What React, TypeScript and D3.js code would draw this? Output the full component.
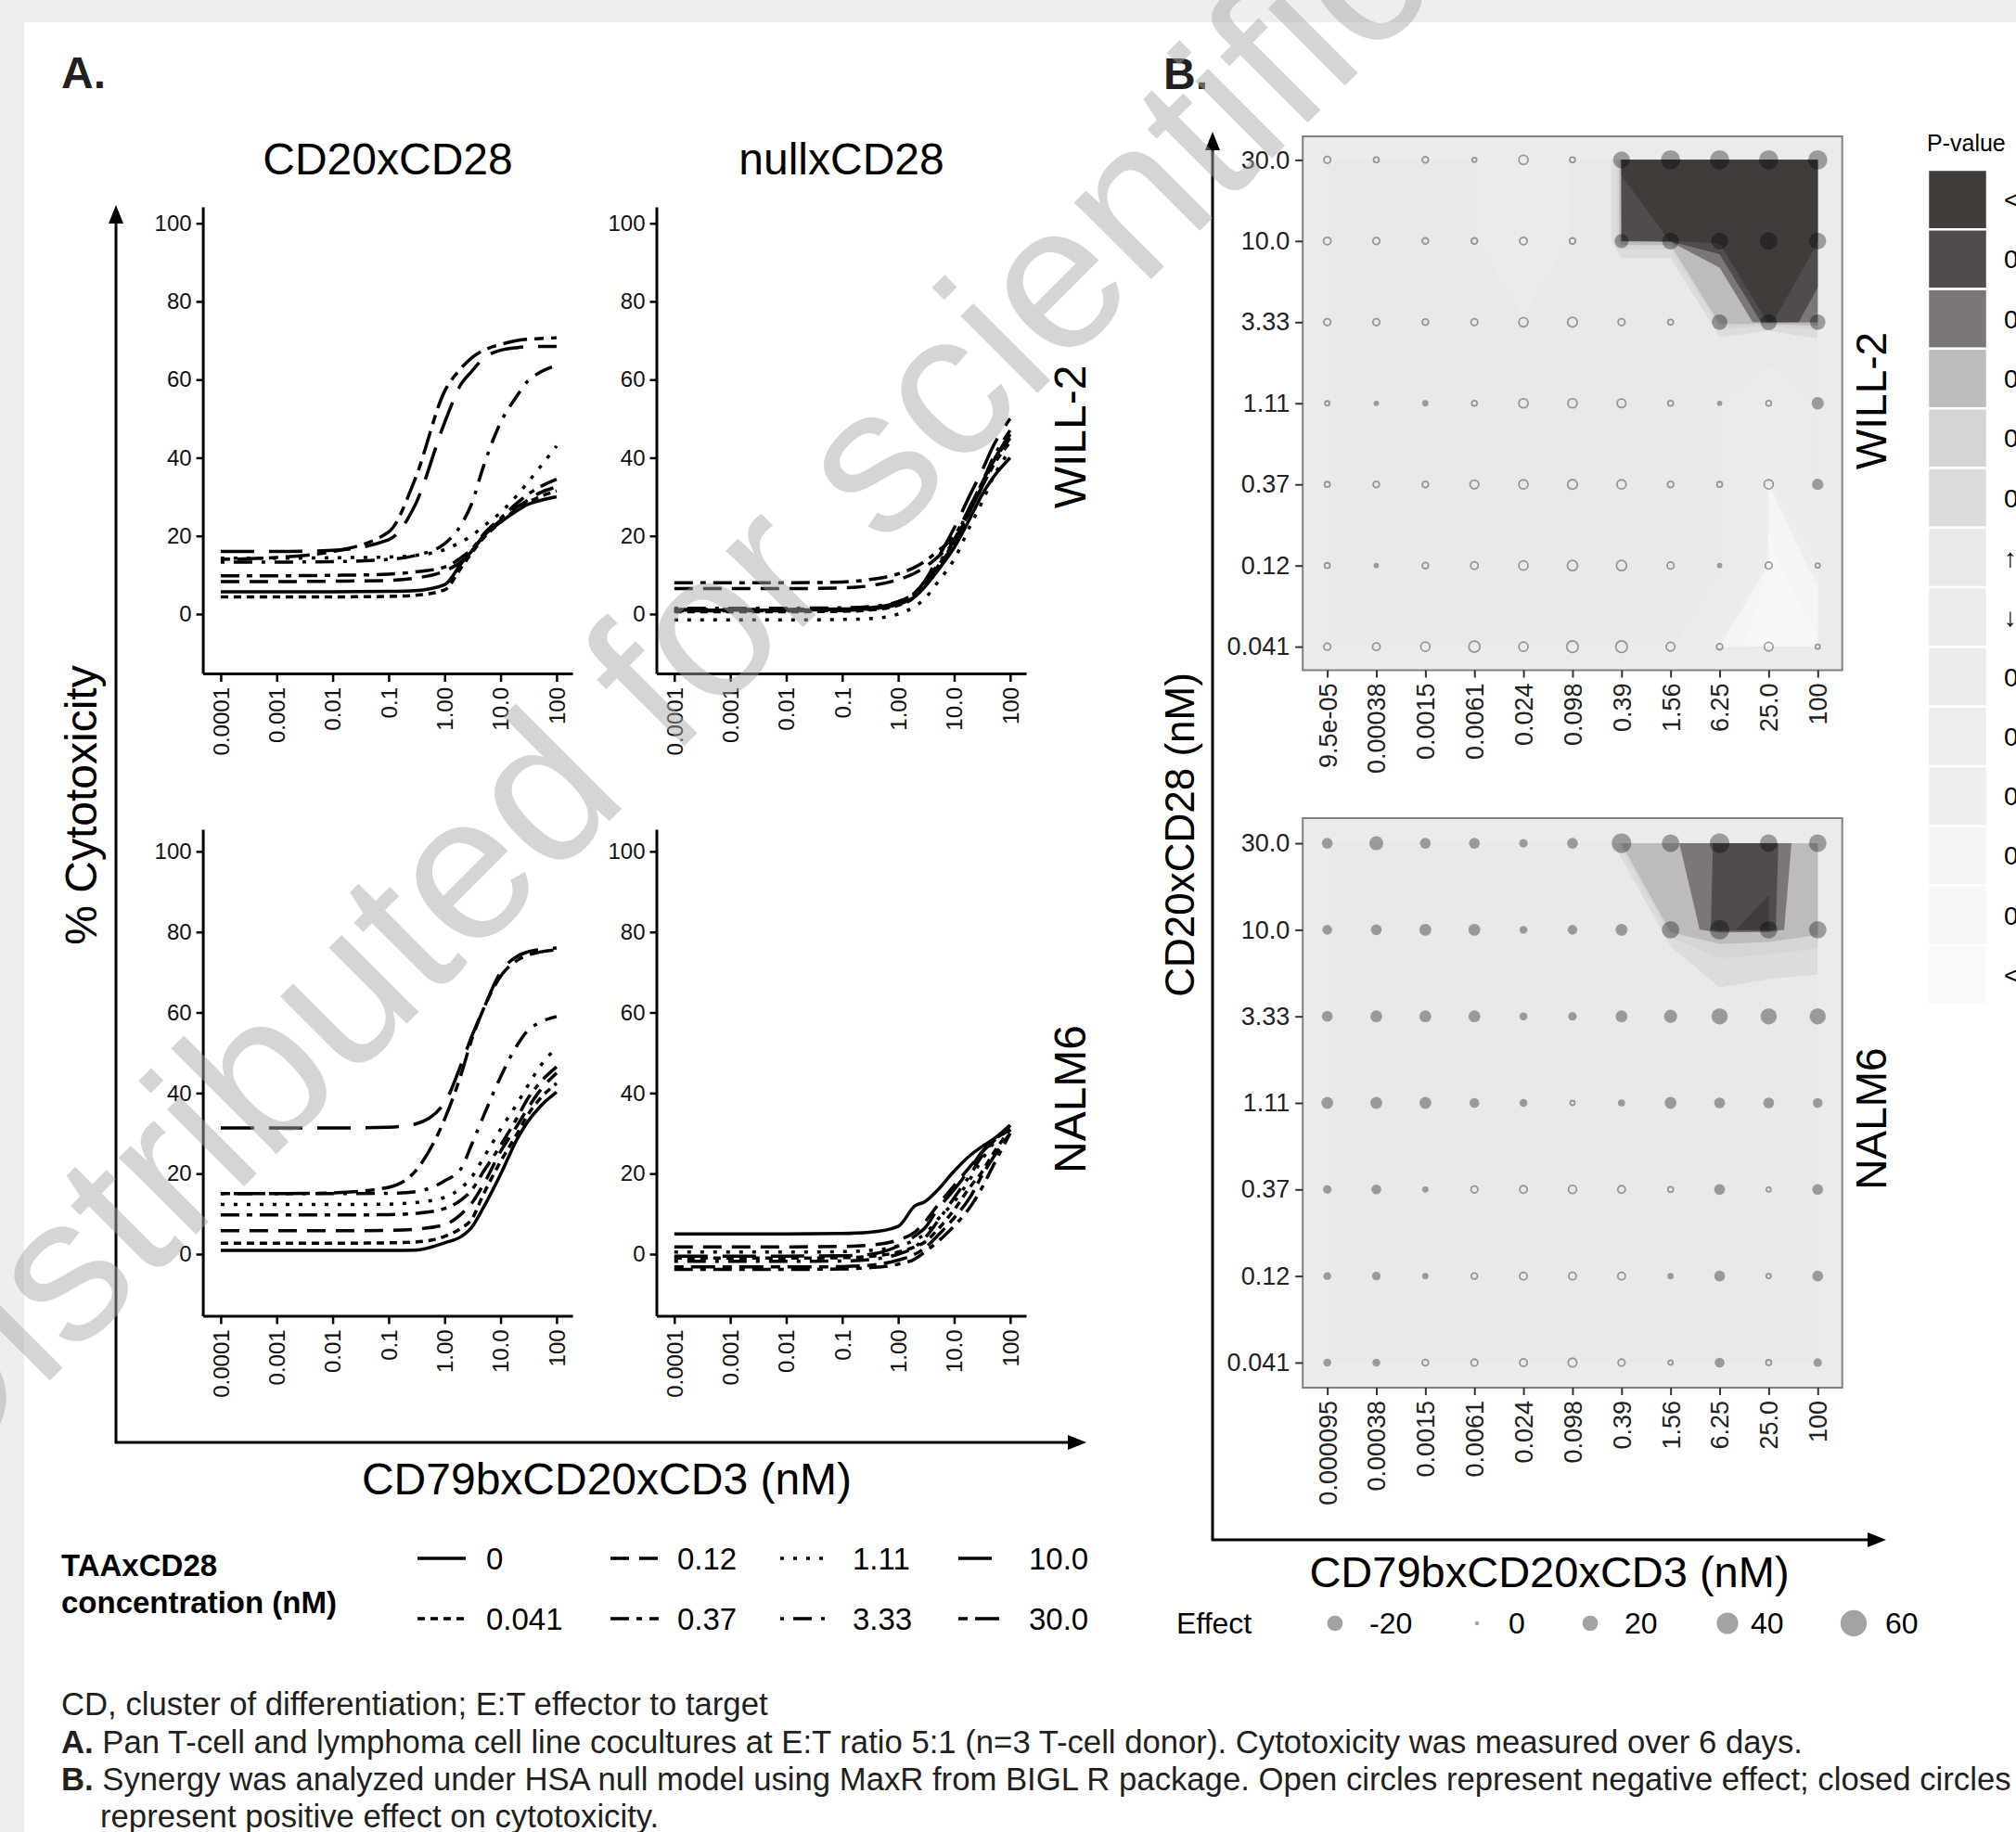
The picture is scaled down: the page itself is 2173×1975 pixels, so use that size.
import React, { useEffect, useRef } from 'react';
import * as d3 from 'd3';

const W = 2173;
const H = 1975;
const FONT = '"Liberation Sans", Arial, Helvetica, sans-serif';

// ---------- panel A : dose-response curves ----------
const doseA = [0.0001, 0.001, 0.01, 0.1, 0.3, 1, 2, 3, 5, 10, 20, 30, 50, 100];
const taaLevels = ['0', '0.041', '0.12', '0.37', '1.11', '3.33', '10.0', '30.0'];
const taaDash = ['', '8,6', '20,11', '20,8,6,8', '4,10', '4,10,20,10', '36,16', '10,8,26,8'];

const will2Cd20 = [
  [5.7, 5.7, 5.7, 5.8, 6.0, 7.5, 13, 16, 20, 23.5, 26.5, 28, 29, 30],
  [4.4, 4.4, 4.4, 4.5, 4.8, 6.2, 12, 15.5, 19.5, 23.5, 27, 28.5, 30, 31.5],
  [8.3, 8.3, 8.4, 8.6, 9.2, 11, 13.5, 16, 20, 24, 27.5, 29, 31, 32.5],
  [9.8, 9.8, 9.9, 10.2, 10.8, 12, 14.5, 16.5, 20.5, 24.5, 28.5, 30.5, 32.5, 34.5],
  [14.3, 14.3, 14.4, 14.6, 15, 16.5, 18.5, 20, 22.5, 26, 30.5, 33.5, 37.5, 43],
  [13.3, 13.3, 13.4, 14, 15, 18, 23, 28, 38, 49, 56, 59.5, 61.8, 63.6],
  [16, 16, 16.3, 19, 28, 49, 59, 62, 65.5, 67.5, 68.2, 68.4, 68.5, 68.5],
  [14, 14.5, 16, 21, 34.7, 57, 63, 65.5, 67.5, 69, 70, 70.3, 70.5, 70.7],
];
const will2Null = [
  [1.0, 1.0, 1.0, 1.1, 1.3, 2.5, 4.5, 7, 11, 17, 25, 30, 35, 40],
  [0.6, 0.6, 0.6, 0.7, 1.0, 2.2, 4.5, 7.5, 12, 18.5, 27, 32, 38, 44],
  [6.5, 6.5, 6.5, 6.7, 7.2, 8.8, 10.5, 12, 14.5, 19, 27, 32, 39, 46],
  [8.0, 8.0, 8.0, 8.2, 8.8, 10.3, 12, 13.5, 16, 20, 28, 33, 39, 45],
  [-1.5, -1.5, -1.5, -1.4, -1.2, 0, 2, 4, 8, 14, 23, 28, 35, 42],
  [1.5, 1.5, 1.5, 1.6, 1.9, 3.2, 5.5, 8, 12.5, 19, 28, 33, 40, 47],
  [1.2, 1.2, 1.2, 1.3, 1.6, 3.0, 5.5, 8.5, 14, 22, 31, 36, 43, 50],
  [0.8, 0.8, 0.8, 0.9, 1.2, 2.6, 5, 7.5, 12, 18, 27, 32, 39, 46],
];
const nalm6Cd20 = [
  [0.9, 0.9, 0.9, 0.9, 1.0, 2.8, 4.4, 6.5, 11.7, 19.8, 28.7, 32.7, 36.5, 40.2],
  [2.7, 2.7, 2.7, 2.8, 3.0, 4.4, 6.5, 8.5, 15, 23, 30, 34.4, 38.5, 42.4],
  [5.8, 5.8, 5.8, 5.9, 6.2, 7.3, 10, 12.5, 17.4, 25.5, 32, 36, 40.5, 45],
  [9.7, 9.7, 9.7, 9.8, 10.1, 11.3, 13.5, 15.8, 20.6, 27, 34, 38.4, 42.5, 46.5],
  [12.3, 12.3, 12.3, 12.4, 12.8, 14.1, 16.5, 19, 24, 31, 37.5, 41.6, 46.5, 51.3],
  [15, 15, 15, 15.1, 15.5, 18.2, 21.4, 27, 34.4, 44, 52, 55.4, 57.5, 59],
  [31.3, 31.3, 31.3, 31.5, 32.3, 37.6, 47.3, 53.8, 61, 70, 74, 75, 75.6, 76],
  [15, 15, 15.2, 16.6, 20.6, 33.5, 44.9, 53, 61, 69, 73, 74.2, 75, 75.6],
];
const nalm6Null = [
  [5, 5, 5, 5.1, 5.4, 6.9, 12, 13, 15.8, 20.6, 24.7, 26.5, 28.5, 32],
  [-1, -1, -1, -0.9, -0.6, 0.5, 1.8, 3, 6, 11, 17, 20, 25, 31],
  [1.8, 1.8, 1.8, 1.9, 2.2, 3.5, 5.5, 8, 12, 17, 22, 25, 28, 31],
  [-3.8, -3.8, -3.8, -3.7, -3.4, -2.5, -1.2, 0.5, 3, 7, 12, 16, 22, 30],
  [0.5, 0.5, 0.5, 0.6, 0.9, 2, 3.5, 5, 8.5, 13, 19, 23, 27.5, 32],
  [-1.8, -1.8, -1.8, -1.7, -1.4, 0, 1.8, 4, 8, 14, 20, 24, 28, 31],
  [-0.5, -0.5, -0.5, -0.4, -0.1, 2, 4.5, 6.5, 11, 16, 21.5, 25, 28, 31],
  [-3.2, -3.2, -3.2, -3.1, -2.8, -1.5, 0, 1.5, 4.5, 9, 14.5, 19, 24, 30],
];

const xTicksA = [0.0001, 0.001, 0.01, 0.1, 1, 10, 100];
const xTickLabelsA = ['0.0001', '0.001', '0.01', '0.1', '1.00', '10.0', '100'];
const yTicksA = [0, 20, 40, 60, 80, 100];
const colTitlesA = ['CD20xCD28', 'nullxCD28'];
const cellLines = ['WILL-2', 'NALM6'];

// ---------- panel B : synergy grids ----------
const rowLabelsB = ['30.0', '10.0', '3.33', '1.11', '0.37', '0.12', '0.041'];
const colLabelsWill = ['9.5e-05', '0.00038', '0.0015', '0.0061', '0.024', '0.098', '0.39', '1.56', '6.25', '25.0', '100'];
const colLabelsNalm = ['0.000095', '0.00038', '0.0015', '0.0061', '0.024', '0.098', '0.39', '1.56', '6.25', '25.0', '100'];

// effect size per cell, rows top (30.0) to bottom (0.041)
const will2Effect = [
  [-5, -3, -4, -2, -9, -3, 24, 32, 32, 32, 32],
  [-6, -5, -4, -4, -6, -4, 16, 24, 24, 26, 24],
  [-5, -5, -4, -5, -9, -10, -5, -3, 20, 22, 20],
  [-2, 1, 2, -3, -9, -9, -8, -3, 1, -3, 12],
  [-3, -4, -4, -8, -9, -10, -9, -4, -3, -9, 10],
  [-3, 1, -4, -6, -9, -11, -11, -5, 1, -5, -2],
  [-5, -6, -9, -13, -9, -14, -14, -8, -4, -8, -2],
];
const nalm6Effect = [
  [9, 16, 9, 9, 5, 9, 33, 26, 33, 26, 26],
  [7, 9, 11, 11, 4, 7, 11, 26, 33, 26, 26],
  [9, 11, 11, 11, 4, 5, 11, 14, 22, 22, 22],
  [11, 11, 11, 7, 4, -2, 3, 11, 9, 9, 7],
  [5, 7, 2, -5, -6, -7, -6, -3, 9, -2, 9],
  [4, 5, 2, -4, -6, -6, -6, 2, 9, -2, 9],
  [4, 4, -4, -5, -6, -8, -5, -2, 7, -3, 5],
];

// signed p-values: positive = synergy, negative = antagonism
const will2P = [
  [0.95, 0.95, 0.95, 0.95, -0.01, 0.95, 0.0002, 0.0001, 0.0001, 0.0001, 0.0001],
  [0.95, 0.95, 0.95, 0.95, -0.3, 0.95, 0.0045, 0.0009, 0.0002, 0.0001, 0.0009],
  [0.95, 0.95, 0.95, 0.95, 0.95, 0.95, 0.95, 0.95, 0.03, 0.0003, 0.008],
  [0.95, 0.95, 0.95, 0.95, 0.95, 0.95, 0.95, 0.95, 0.95, -0.1, 0.95],
  [0.95, 0.95, 0.95, 0.95, 0.95, 0.95, 0.95, 0.95, 0.95, -0.008, 0.9],
  [0.95, 0.95, 0.95, 0.95, 0.95, 0.95, 0.95, 0.95, 0.95, -0.003, -0.012],
  [0.95, 0.95, 0.95, 0.95, 0.95, 0.95, 0.95, 0.95, -0.0095, -0.0005, -0.004],
];
const nalm6P = [
  [0.95, 0.95, 0.95, 0.95, 0.95, 0.95, 0.04, 0.0113, 0.004, 0.0013, 0.02],
  [0.95, 0.95, 0.95, 0.95, 0.95, 0.95, 0.95, 0.023, 0.0011, 0.0008, 0.03],
  [0.95, 0.95, 0.95, 0.95, 0.95, 0.95, 0.95, 0.95, 0.3, 0.35, 0.36],
  [0.95, 0.95, 0.95, 0.95, 0.95, 0.95, 0.95, 0.95, 0.95, 0.95, 0.95],
  [0.95, 0.95, 0.95, 0.95, 0.95, 0.95, 0.95, 0.95, 0.95, 0.95, 0.95],
  [0.95, 0.95, 0.95, 0.95, 0.95, 0.95, 0.95, 0.95, 0.95, 0.95, 0.95],
  [0.95, 0.95, 0.95, 0.95, 0.95, 0.95, 0.95, 0.95, 0.95, 0.95, 0.95],
];

// contour levels on signed (1 - p), lowest band first
const pThresholds = [-0.999, -0.995, -0.99, -0.95, -0.9, -0.8, 0, 0.8, 0.9, 0.95, 0.99, 0.995, 0.999];
const pColors = ['#f9f9f9', '#f7f7f7', '#f4f5f6', '#eeeeee', '#ededed', '#ececeb', '#ebebeb',
  '#e9e9e9', '#dcdcdc', '#d5d5d4', '#bdbcbb', '#7a7776', '#4f4c4b', '#3f3c3a'];
const pLegendLabels = ['<0.001', '0.001', '0.005', '0.01', '0.05', '0.1', '↑ 0.2', '↓ 0.2',
  '0.1', '0.05', '0.01', '0.005', '0.001', '<0.001'];
const effectLegend = [-20, 0, 20, 40, 60];

export default function App() {
  const ref = useRef<SVGSVGElement>(null);

  useEffect(() => {
    const svg = d3.select(ref.current);
    svg.selectAll('*').remove();

    // page frame
    svg.append('rect').attr('width', W).attr('height', H).attr('fill', '#efeeec');
    svg.append('rect').attr('x', 26).attr('y', 24).attr('width', W - 26).attr('height', H - 24).attr('fill', '#fff');

    const txt = (x: number, y: number, s: string, size: number, opts: any = {}) => {
      const t = svg.append('text').attr('x', x).attr('y', y).text(s)
        .attr('font-size', size).attr('font-family', FONT).attr('fill', opts.fill || '#000')
        .attr('text-anchor', opts.anchor || 'start');
      if (opts.bold) t.attr('font-weight', 'bold');
      if (opts.rotate) t.attr('transform', `rotate(${opts.rotate},${x},${y})`);
      if (opts.dy) t.attr('dy', opts.dy);
      return t;
    };

    txt(66, 95, 'A.', 48, { bold: true, fill: '#231f20' });
    txt(1254, 96, 'B.', 48, { bold: true, fill: '#231f20' });

    // outer arrows
    const arrow = (x1: number, y1: number, x2: number, y2: number) => {
      const ang = Math.atan2(y2 - y1, x2 - x1);
      const L = 20, hw = 8;
      const bx = x2 - L * Math.cos(ang), by = y2 - L * Math.sin(ang);
      svg.append('line').attr('x1', x1).attr('y1', y1).attr('x2', bx).attr('y2', by)
        .attr('stroke', '#000').attr('stroke-width', 3);
      svg.append('path')
        .attr('d', `M${x2},${y2}L${bx - hw * Math.sin(ang)},${by + hw * Math.cos(ang)}L${bx + hw * Math.sin(ang)},${by - hw * Math.cos(ang)}Z`)
        .attr('fill', '#000');
    };
    arrow(125, 1556, 125, 221);
    arrow(124, 1555, 1171, 1555);
    arrow(1307, 1661, 1307, 142);
    arrow(1306, 1660, 2033, 1660);

    // ---------- panel A ----------
    const aCols = [218.6, 707.5];
    const aRows = [
      { range: [726, 223], domain: [-15.2, 104.2] },
      { range: [1418.4, 894], domain: [-15.3, 105.5] },
    ];
    const aData = [[will2Cd20, will2Null], [nalm6Cd20, nalm6Null]];

    aRows.forEach((row, ri) => {
      const y = d3.scaleLinear().domain(row.domain).range(row.range);
      aCols.forEach((left, ci) => {
        const x = d3.scaleLog().domain([10 ** -4.32, 10 ** 2.285]).range([left, left + 398.5]);
        const g = svg.append('g');

        const gy = g.append('g').attr('transform', `translate(${left},0)`)
          .call(d3.axisLeft(y).tickValues(yTicksA).tickFormat(d3.format('d')).tickSize(7).tickPadding(5).tickSizeOuter(0));
        const gx = g.append('g').attr('transform', `translate(0,${row.range[0]})`)
          .call(d3.axisBottom(x).tickValues(xTicksA).tickFormat((d: any, i: number) => xTickLabelsA[i]).tickSize(9).tickSizeOuter(0));
        gx.selectAll('text').attr('transform', 'rotate(-90)').attr('text-anchor', 'end')
          .attr('x', -15).attr('y', 0).attr('dy', '0.35em');
        [gy, gx].forEach(a => {
          a.attr('font-size', 24).attr('font-family', FONT);
          a.select('.domain').attr('stroke-width', 3);
          a.selectAll('.tick line').attr('stroke-width', 2.5);
          a.selectAll('.tick text').attr('fill', '#111');
        });

        const line = d3.line<number>()
          .x((_, i) => x(doseA[i]))
          .y(d => y(d))
          .curve(d3.curveMonotoneX);
        aData[ri][ci].forEach((series, si) => {
          g.append('path').attr('d', line(series)!)
            .attr('fill', 'none').attr('stroke', '#000').attr('stroke-width', 3.5)
            .attr('stroke-dasharray', taaDash[si] || null);
        });
      });
    });

    txt(418, 188, colTitlesA[0], 48, { anchor: 'middle' });
    txt(907, 188, colTitlesA[1], 48, { anchor: 'middle' });
    txt(1153, 471, cellLines[0], 48, { anchor: 'middle', rotate: -90, dy: '0.35em' });
    txt(1153, 1185, cellLines[1], 48, { anchor: 'middle', rotate: -90, dy: '0.35em' });
    txt(87, 868, '% Cytotoxicity', 48, { anchor: 'middle', rotate: -90, dy: '0.35em' });
    txt(654, 1611, 'CD79bxCD20xCD3 (nM)', 48, { anchor: 'middle' });

    // linetype legend
    txt(66, 1699, 'TAAxCD28', 33, { bold: true });
    txt(66, 1739, 'concentration (nM)', 33, { bold: true });
    const legX = [450, 658, 841, 1033];
    const legLabX = [524, 730, 919, 1109];
    const legY = [1680, 1745];
    taaLevels.forEach((lev, i) => {
      const c = Math.floor(i / 2), r = i % 2;
      svg.append('line').attr('x1', legX[c]).attr('x2', legX[c] + 52)
        .attr('y1', legY[r]).attr('y2', legY[r])
        .attr('stroke', '#000').attr('stroke-width', 3.5)
        .attr('stroke-dasharray', taaDash[i] || null);
      txt(legLabX[c], legY[r] + 12, lev, 33);
    });

    // ---------- panel B ----------
    const bLeft = 1404.2, bRight = 1985.7;
    const areaScale = d3.scaleLinear().domain([0, 60]).range([5, 200]);
    const radius = (e: number) => Math.sqrt(areaScale(Math.abs(e)));
    const defs = svg.append('defs');

    const bPanels = [
      { top: 147, bottom: 722.5, eff: will2Effect, p: will2P, cols: colLabelsWill, strip: cellLines[0], stripY: 432 },
      { top: 882, bottom: 1496, eff: nalm6Effect, p: nalm6P, cols: colLabelsNalm, strip: cellLines[1], stripY: 1206 },
    ];

    bPanels.forEach((pn, k) => {
      const x = d3.scalePoint<number>().domain(d3.range(11)).range([bLeft, bRight]).padding(0.5);
      const y = d3.scalePoint<string>().domain(rowLabelsB).range([pn.top, pn.bottom]).padding(0.29);
      const g = svg.append('g');
      g.append('rect').attr('x', bLeft).attr('y', pn.top).attr('width', bRight - bLeft)
        .attr('height', pn.bottom - pn.top).attr('fill', '#ebebeb');

      const x0 = x(0)!, x1 = x(10)!, y0 = y(rowLabelsB[0])!, y1 = y(rowLabelsB[6])!;
      const sx = x.step(), sy = y.step();
      const clipId = `bclip${k}`;
      defs.append('clipPath').attr('id', clipId).append('rect')
        .attr('x', x0).attr('y', y0).attr('width', x1 - x0).attr('height', y1 - y0);

      const values = pn.p.flat().map(v => Math.sign(v) * (1 - Math.abs(v)));
      const contours = d3.contours().size([11, 7]).thresholds(pThresholds)(values);
      const proj = d3.geoTransform({
        point(px: number, py: number) {
          this.stream.point(x0 + (px - 0.5) * sx, y0 + (py - 0.5) * sy);
        },
      });
      const path = d3.geoPath(proj);
      const cg = g.append('g').attr('clip-path', `url(#${clipId})`);
      cg.append('rect').attr('x', x0).attr('y', y0).attr('width', x1 - x0).attr('height', y1 - y0)
        .attr('fill', pColors[0]);
      contours.forEach((c, i) => {
        cg.append('path').attr('d', path(c as any) || '').attr('fill', pColors[i + 1]);
      });

      // effect dots
      pn.eff.forEach((row, ri) => row.forEach((e, ci) => {
        const r = radius(e);
        const c = g.append('circle').attr('cx', x(ci)!).attr('cy', y(rowLabelsB[ri])!);
        if (e > 0) {
          c.attr('r', r).attr('fill', '#000').attr('fill-opacity', 0.34);
        } else {
          c.attr('r', Math.max(r - 0.9, 1.5)).attr('fill', 'none').attr('stroke', '#000')
            .attr('stroke-opacity', 0.36).attr('stroke-width', 1.8);
        }
      }));

      g.append('rect').attr('x', bLeft).attr('y', pn.top).attr('width', bRight - bLeft)
        .attr('height', pn.bottom - pn.top).attr('fill', 'none').attr('stroke', '#808080').attr('stroke-width', 2);

      const gy = g.append('g').attr('transform', `translate(${bLeft},0)`)
        .call(d3.axisLeft(y).tickSize(8).tickPadding(6).tickSizeOuter(0));
      const gx = g.append('g').attr('transform', `translate(0,${pn.bottom})`)
        .call(d3.axisBottom(x).tickFormat((i: any) => pn.cols[i]).tickSize(8).tickSizeOuter(0));
      gx.selectAll('text').attr('transform', 'rotate(-90)').attr('text-anchor', 'end')
        .attr('x', -14).attr('y', 0).attr('dy', '0.35em');
      [gy, gx].forEach(a => {
        a.attr('font-size', 27).attr('font-family', FONT);
        a.select('.domain').remove();
        a.selectAll('.tick line').attr('stroke', '#333').attr('stroke-width', 2);
        a.selectAll('.tick text').attr('fill', '#222');
      });

      txt(2017, pn.stripY, pn.strip, 46, { anchor: 'middle', rotate: -90, dy: '0.35em' });
    });

    txt(1272, 900, 'CD20xCD28 (nM)', 44, { anchor: 'middle', rotate: -90, dy: '0.35em' });
    txt(1670, 1711, 'CD79bxCD20xCD3 (nM)', 47, { anchor: 'middle' });

    // effect size legend
    txt(1268, 1761, 'Effect', 32);
    const effCx = [1439, 1592, 1714, 1862, 1998];
    const effLx = [1476, 1626, 1751, 1887, 2032];
    effectLegend.forEach((e, i) => {
      svg.append('circle').attr('cx', effCx[i]).attr('cy', 1750).attr('r', radius(e))
        .attr('fill', '#000').attr('fill-opacity', 0.36);
      txt(effLx[i], 1761, String(e), 32);
    });

    // p-value legend (runs off the page edge, as in the source figure)
    txt(2077, 163, 'P-value', 25);
    const boxH = 64.3;
    const legendColors = pColors.slice().reverse();
    legendColors.forEach((col, i) => {
      svg.append('rect').attr('x', 2078).attr('y', 183 + i * boxH).attr('width', 64).attr('height', boxH)
        .attr('fill', col).attr('stroke', '#fff').attr('stroke-width', 2.5);
      txt(2160, 183 + i * boxH + boxH / 2 + 10, pLegendLabels[i], 28);
    });

    // footnotes
    const fs = 34.7;
    txt(66, 1849, 'CD, cluster of differentiation; E:T effector to target', fs, { fill: '#231f20' });
    const l2 = txt(66, 1890, '', fs, { fill: '#231f20' });
    l2.append('tspan').attr('font-weight', 'bold').text('A.');
    l2.append('tspan').text(' Pan T-cell and lymphoma cell line cocultures at E:T ratio 5:1 (n=3 T-cell donor). Cytotoxicity was measured over 6 days.');
    const l3 = txt(66, 1930, '', fs, { fill: '#231f20' });
    l3.append('tspan').attr('font-weight', 'bold').text('B.');
    l3.append('tspan').text(' Synergy was analyzed under HSA null model using MaxR from BIGL R package. Open circles represent negative effect; closed circles');
    txt(108, 1970, 'represent positive effect on cytotoxicity.', fs, { fill: '#231f20' });

    // watermark
    svg.append('text').attr('transform', 'translate(-70,1612) rotate(-45)')
      .attr('font-size', 222).attr('font-family', FONT).attr('fill', '#a8a8a8').attr('opacity', 0.48)
      .text('Distributed for scientific');
  }, []);

  return (
    <div style={{ position: 'absolute', left: 0, top: 0 }}>
      <svg ref={ref} width={W} height={H} style={{ display: 'block' }} />
    </div>
  );
}
